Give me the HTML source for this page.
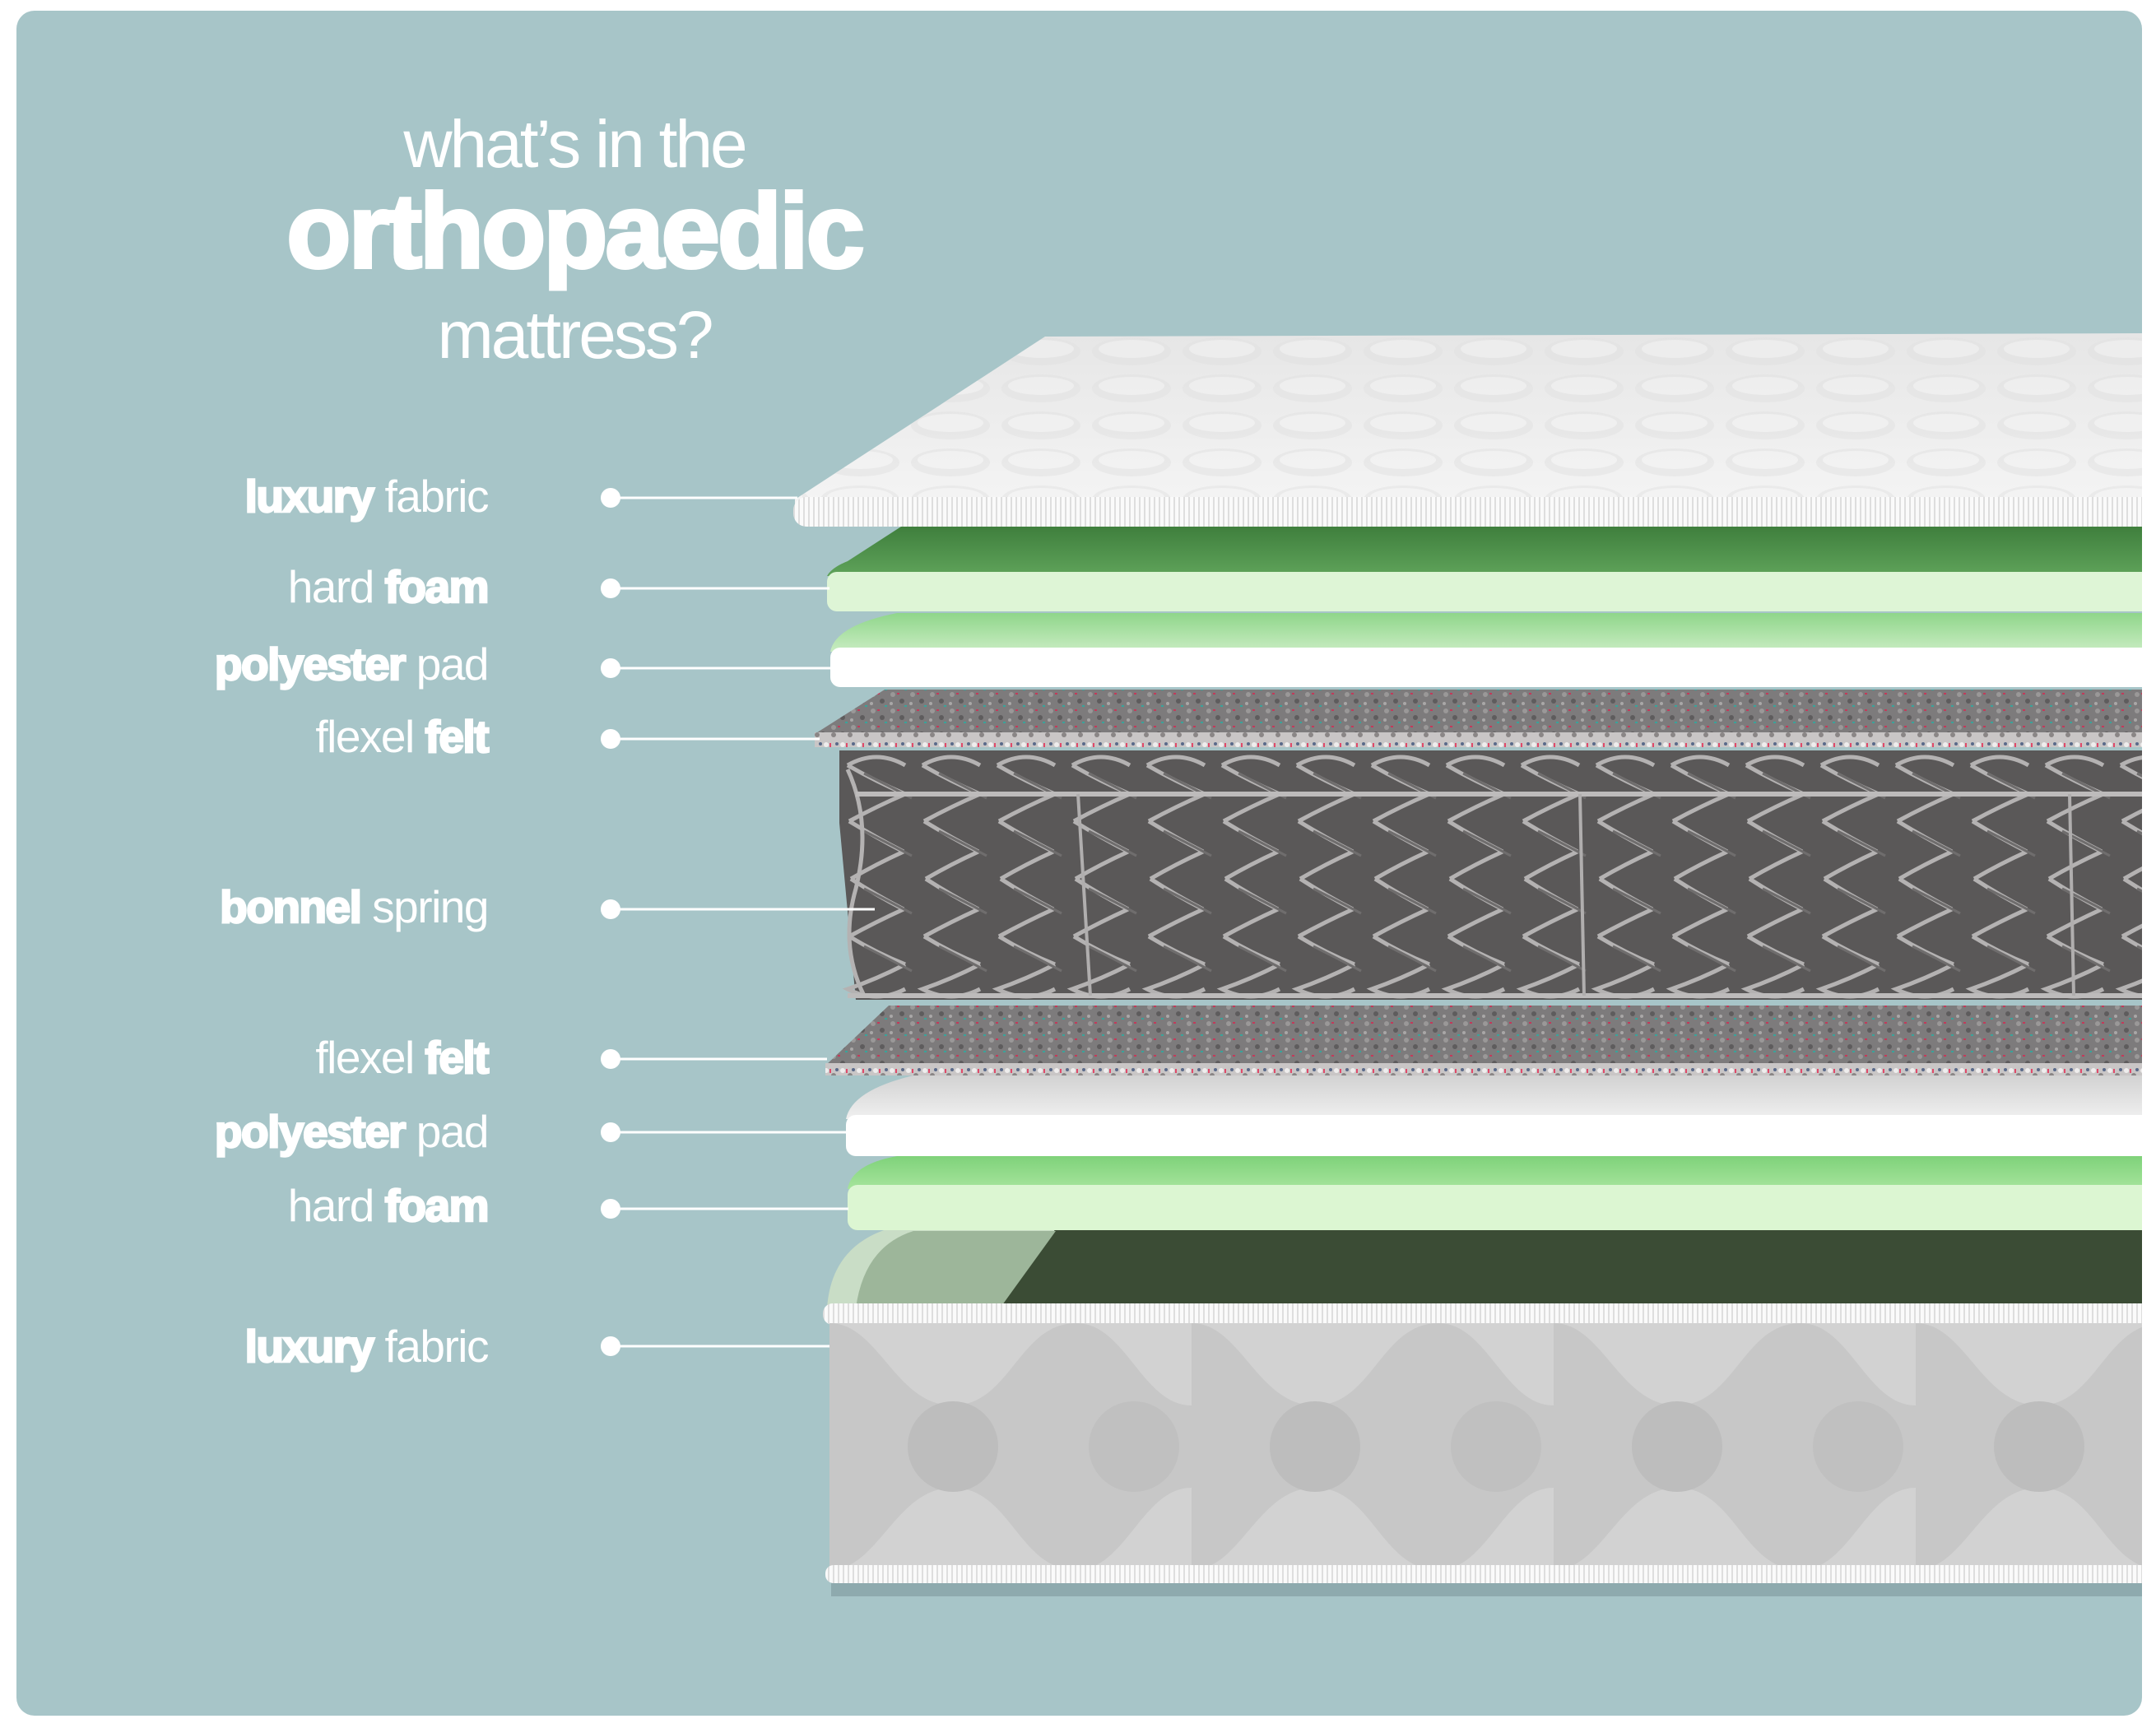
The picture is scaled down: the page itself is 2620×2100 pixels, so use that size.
<!DOCTYPE html>
<html><head><meta charset="utf-8"><style>
html,body{margin:0;padding:0;background:#fff;}
body{width:2620px;height:2100px;overflow:hidden;position:relative;font-family:"Liberation Sans",sans-serif;}
</style></head><body>
<svg width="2620" height="2100" viewBox="0 0 2620 2100" xmlns="http://www.w3.org/2000/svg" style="position:absolute;left:0;top:0">
<defs>
<clipPath id="panel"><rect x="20" y="13" width="2583" height="2072" rx="22"/></clipPath>
<linearGradient id="gTop" x1="0" y1="0" x2="0" y2="1"><stop offset="0" stop-color="#3f7f3d"/><stop offset="1" stop-color="#5fa35a"/></linearGradient>
<linearGradient id="gPolyTop" x1="0" y1="0" x2="0" y2="1"><stop offset="0" stop-color="#8fd68a"/><stop offset="1" stop-color="#c9ecc2"/></linearGradient>
<linearGradient id="gFoamTop2" x1="0" y1="0" x2="0" y2="1"><stop offset="0" stop-color="#7fd27a"/><stop offset="1" stop-color="#a6e49c"/></linearGradient>
<linearGradient id="gPad2" x1="0" y1="0" x2="0" y2="1"><stop offset="0" stop-color="#d2d2d2"/><stop offset="1" stop-color="#f0f0f0"/></linearGradient>
<linearGradient id="gQuilt" x1="0" y1="0" x2="0" y2="1"><stop offset="0" stop-color="#e6e6e6"/><stop offset="1" stop-color="#f4f4f4"/></linearGradient>
<pattern id="quilt" width="110" height="45" patternUnits="userSpaceOnUse">
<ellipse cx="55" cy="22" rx="48" ry="17" fill="#e0e0e0"/><ellipse cx="55" cy="19" rx="40" ry="11" fill="#f2f2f2"/>
</pattern>
<pattern id="felt" width="24" height="20" patternUnits="userSpaceOnUse">
<rect width="24" height="20" fill="#7d7b7c"/><circle cx="5" cy="4" r="3" fill="#9a9898"/><circle cx="16" cy="12" r="3" fill="#5e5c5d"/><rect x="10" y="2" width="3" height="2" fill="#c33a5a"/><rect x="19" y="17" width="3" height="2" fill="#3aa39a"/><circle cx="3" cy="15" r="2" fill="#a9a7a7"/>
</pattern>
<pattern id="feltEdge" width="20" height="18" patternUnits="userSpaceOnUse">
<rect width="20" height="18" fill="#c9c6c6"/><circle cx="4" cy="5" r="3" fill="#efeded"/><circle cx="13" cy="11" r="3" fill="#8a8686"/><rect x="8" y="3" width="2" height="5" fill="#e04a6a"/><circle cx="17" cy="4" r="2" fill="#5a6a8a"/>
</pattern>
<pattern id="coil" width="91" height="310" patternUnits="userSpaceOnUse" x="1020" y="910">
<g fill="none" stroke="#b4b2b2" stroke-width="5">
<path d="M10 20 Q45 0 80 20 M10 20 Q45 40 80 55 M80 55 Q45 70 12 88 M12 88 Q45 108 78 125 M78 125 Q45 140 14 158 M14 158 Q45 178 78 195 M78 195 Q45 210 12 228 M12 228 Q45 248 80 262 M80 262 Q45 280 10 292 Q45 310 80 292"/>
</g>
<g fill="none" stroke="#6f6d6d" stroke-width="3">
<path d="M30 30 Q60 45 88 60 M30 100 Q60 115 88 130 M30 170 Q60 185 88 200 M30 240 Q60 255 88 270"/>
</g>
</pattern>
<pattern id="wave" width="440" height="300" patternUnits="userSpaceOnUse" x="1008" y="1608">
<rect width="440" height="300" fill="#c7c7c7"/>
<path d="M0 0 C60 0 80 100 150 100 C220 100 230 0 300 0 C360 0 380 100 440 100 L440 0Z" fill="#d2d2d2"/>
<path d="M0 300 C60 300 80 200 150 200 C220 200 230 300 300 300 C360 300 380 200 440 200 L440 300Z" fill="#d2d2d2"/>
<ellipse cx="150" cy="150" rx="55" ry="55" fill="#bdbdbd"/><ellipse cx="370" cy="150" rx="55" ry="55" fill="#c0c0c0"/>
</pattern>
<pattern id="pipe" width="6" height="30" patternUnits="userSpaceOnUse"><rect width="6" height="30" fill="#fafafa"/><rect x="4" width="2" height="30" fill="#dedede"/></pattern>
</defs>

<rect x="20" y="13" width="2583" height="2072" rx="22" fill="#a7c5c8"/>

<g clip-path="url(#panel)">
<rect x="1010" y="1918" width="1610" height="22" fill="#839ea2" opacity="0.7"/>

<!-- base -->
<path d="M1005 1590 Q1010 1515 1080 1493 L2620 1493 L2620 1590Z" fill="#c9ddc6"/>
<path d="M1283 1493 L2620 1493 L2620 1590 L1215 1590Z" fill="#3b4c35"/>
<path d="M1040 1590 Q1050 1515 1110 1496 L1283 1496 L1215 1590Z" fill="#9db69a"/>
<rect x="1000" y="1584" width="1620" height="26" rx="12" fill="url(#pipe)"/>
<rect x="1008" y="1608" width="1612" height="298" fill="url(#wave)"/>
<rect x="1003" y="1902" width="1617" height="22" rx="10" fill="url(#pipe)"/>

<!-- bottom green foam -->
<path d="M1030 1445 Q1035 1415 1090 1405 L2620 1405 L2620 1445Z" fill="url(#gFoamTop2)"/>
<rect x="1030" y="1440" width="1590" height="55" rx="12" fill="#dcf6d2"/>

<!-- bottom poly pad -->
<path d="M1028 1360 Q1035 1325 1110 1307 L2620 1307 L2620 1360Z" fill="url(#gPad2)"/>
<rect x="1028" y="1355" width="1592" height="50" rx="12" fill="#ffffff"/>

<!-- bottom felt -->
<path d="M1003 1295 L1080 1222 L2620 1222 L2620 1295Z" fill="url(#felt)"/>
<rect x="1003" y="1292" width="1617" height="15" fill="url(#feltEdge)"/>

<!-- springs -->
<path d="M1020 912 L2620 912 L2620 1215 L1040 1215 L1020 1000Z" fill="#5a5858"/>
<rect x="1020" y="905" width="1600" height="310" fill="url(#coil)"/>
<path d="M1030 935 Q1060 1000 1040 1080 Q1020 1150 1050 1210" fill="none" stroke="#b4b2b2" stroke-width="5"/>
<path d="M1040 965 L2620 965" stroke="#bdbbbb" stroke-width="6"/>
<path d="M1030 1210 L2620 1210" stroke="#bdbbbb" stroke-width="6"/>
<path d="M1310 965 L1325 1210 M1920 965 L1925 1210 M2515 965 L2520 1210" stroke="#b0aeae" stroke-width="4"/>

<!-- top felt -->
<path d="M990 892 L1075 838 L2620 838 L2620 892Z" fill="url(#felt)"/>
<rect x="990" y="890" width="1630" height="18" fill="url(#feltEdge)"/>

<!-- top poly pad -->
<path d="M1009 792 Q1015 760 1090 745 L2620 745 L2620 792Z" fill="url(#gPolyTop)"/>
<rect x="1009" y="787" width="1611" height="48" rx="12" fill="#ffffff"/>

<!-- top green foam -->
<path d="M1005 700 Q1010 690 1030 682 L1095 640 L2620 640 L2620 700Z" fill="url(#gTop)"/>
<rect x="1005" y="695" width="1615" height="48" rx="12" fill="#def5d6"/>

<!-- top luxury fabric -->
<path d="M966 607 L1270 409 L2620 405 L2620 612 L966 612Z" fill="url(#gQuilt)"/>
<path d="M966 607 L1270 409 L2620 405 L2620 612 L966 612Z" fill="url(#quilt)" opacity="0.5"/>
<rect x="964" y="604" width="1656" height="36" rx="16" fill="url(#pipe)"/>
</g>

<!-- title -->
<g fill="#ffffff" text-anchor="middle">
<text x="698" y="203" font-size="82" letter-spacing="-3">what’s in the</text>
<text x="698" y="325" font-size="128" font-weight="bold" letter-spacing="-3" stroke="#ffffff" stroke-width="4">orthopaedic</text>
<text x="698" y="435" font-size="82" letter-spacing="-3">mattress?</text>
</g>

<!-- labels -->
<g fill="#ffffff" font-size="55" text-anchor="end" letter-spacing="-1.5">
<text x="593" y="622"><tspan font-weight="bold" stroke="#fff" stroke-width="2.5">luxury</tspan> fabric</text>
<text x="593" y="732">hard <tspan font-weight="bold" stroke="#fff" stroke-width="2.5">foam</tspan></text>
<text x="593" y="826"><tspan font-weight="bold" stroke="#fff" stroke-width="2.5">polyester</tspan> pad</text>
<text x="593" y="914">flexel <tspan font-weight="bold" stroke="#fff" stroke-width="2.5">felt</tspan></text>
<text x="593" y="1121"><tspan font-weight="bold" stroke="#fff" stroke-width="2.5">bonnel</tspan> spring</text>
<text x="593" y="1304">flexel <tspan font-weight="bold" stroke="#fff" stroke-width="2.5">felt</tspan></text>
<text x="593" y="1394"><tspan font-weight="bold" stroke="#fff" stroke-width="2.5">polyester</tspan> pad</text>
<text x="593" y="1484">hard <tspan font-weight="bold" stroke="#fff" stroke-width="2.5">foam</tspan></text>
<text x="593" y="1655"><tspan font-weight="bold" stroke="#fff" stroke-width="2.5">luxury</tspan> fabric</text>
</g>

<!-- connectors -->
<g stroke="#ffffff" stroke-width="3" fill="#ffffff">
<line x1="742" y1="605" x2="969" y2="605"/><circle cx="742" cy="605" r="12" stroke="none"/>
<line x1="742" y1="715" x2="1008" y2="715"/><circle cx="742" cy="715" r="12" stroke="none"/>
<line x1="742" y1="812" x2="1012" y2="812"/><circle cx="742" cy="812" r="12" stroke="none"/>
<line x1="742" y1="898" x2="996" y2="898"/><circle cx="742" cy="898" r="12" stroke="none"/>
<line x1="742" y1="1105" x2="1063" y2="1105"/><circle cx="742" cy="1105" r="12" stroke="none"/>
<line x1="742" y1="1287" x2="1005" y2="1287"/><circle cx="742" cy="1287" r="12" stroke="none"/>
<line x1="742" y1="1376" x2="1030" y2="1376"/><circle cx="742" cy="1376" r="12" stroke="none"/>
<line x1="742" y1="1469" x2="1031" y2="1469"/><circle cx="742" cy="1469" r="12" stroke="none"/>
<line x1="742" y1="1636" x2="1008" y2="1636"/><circle cx="742" cy="1636" r="12" stroke="none"/>
</g>
</svg>
</body></html>
